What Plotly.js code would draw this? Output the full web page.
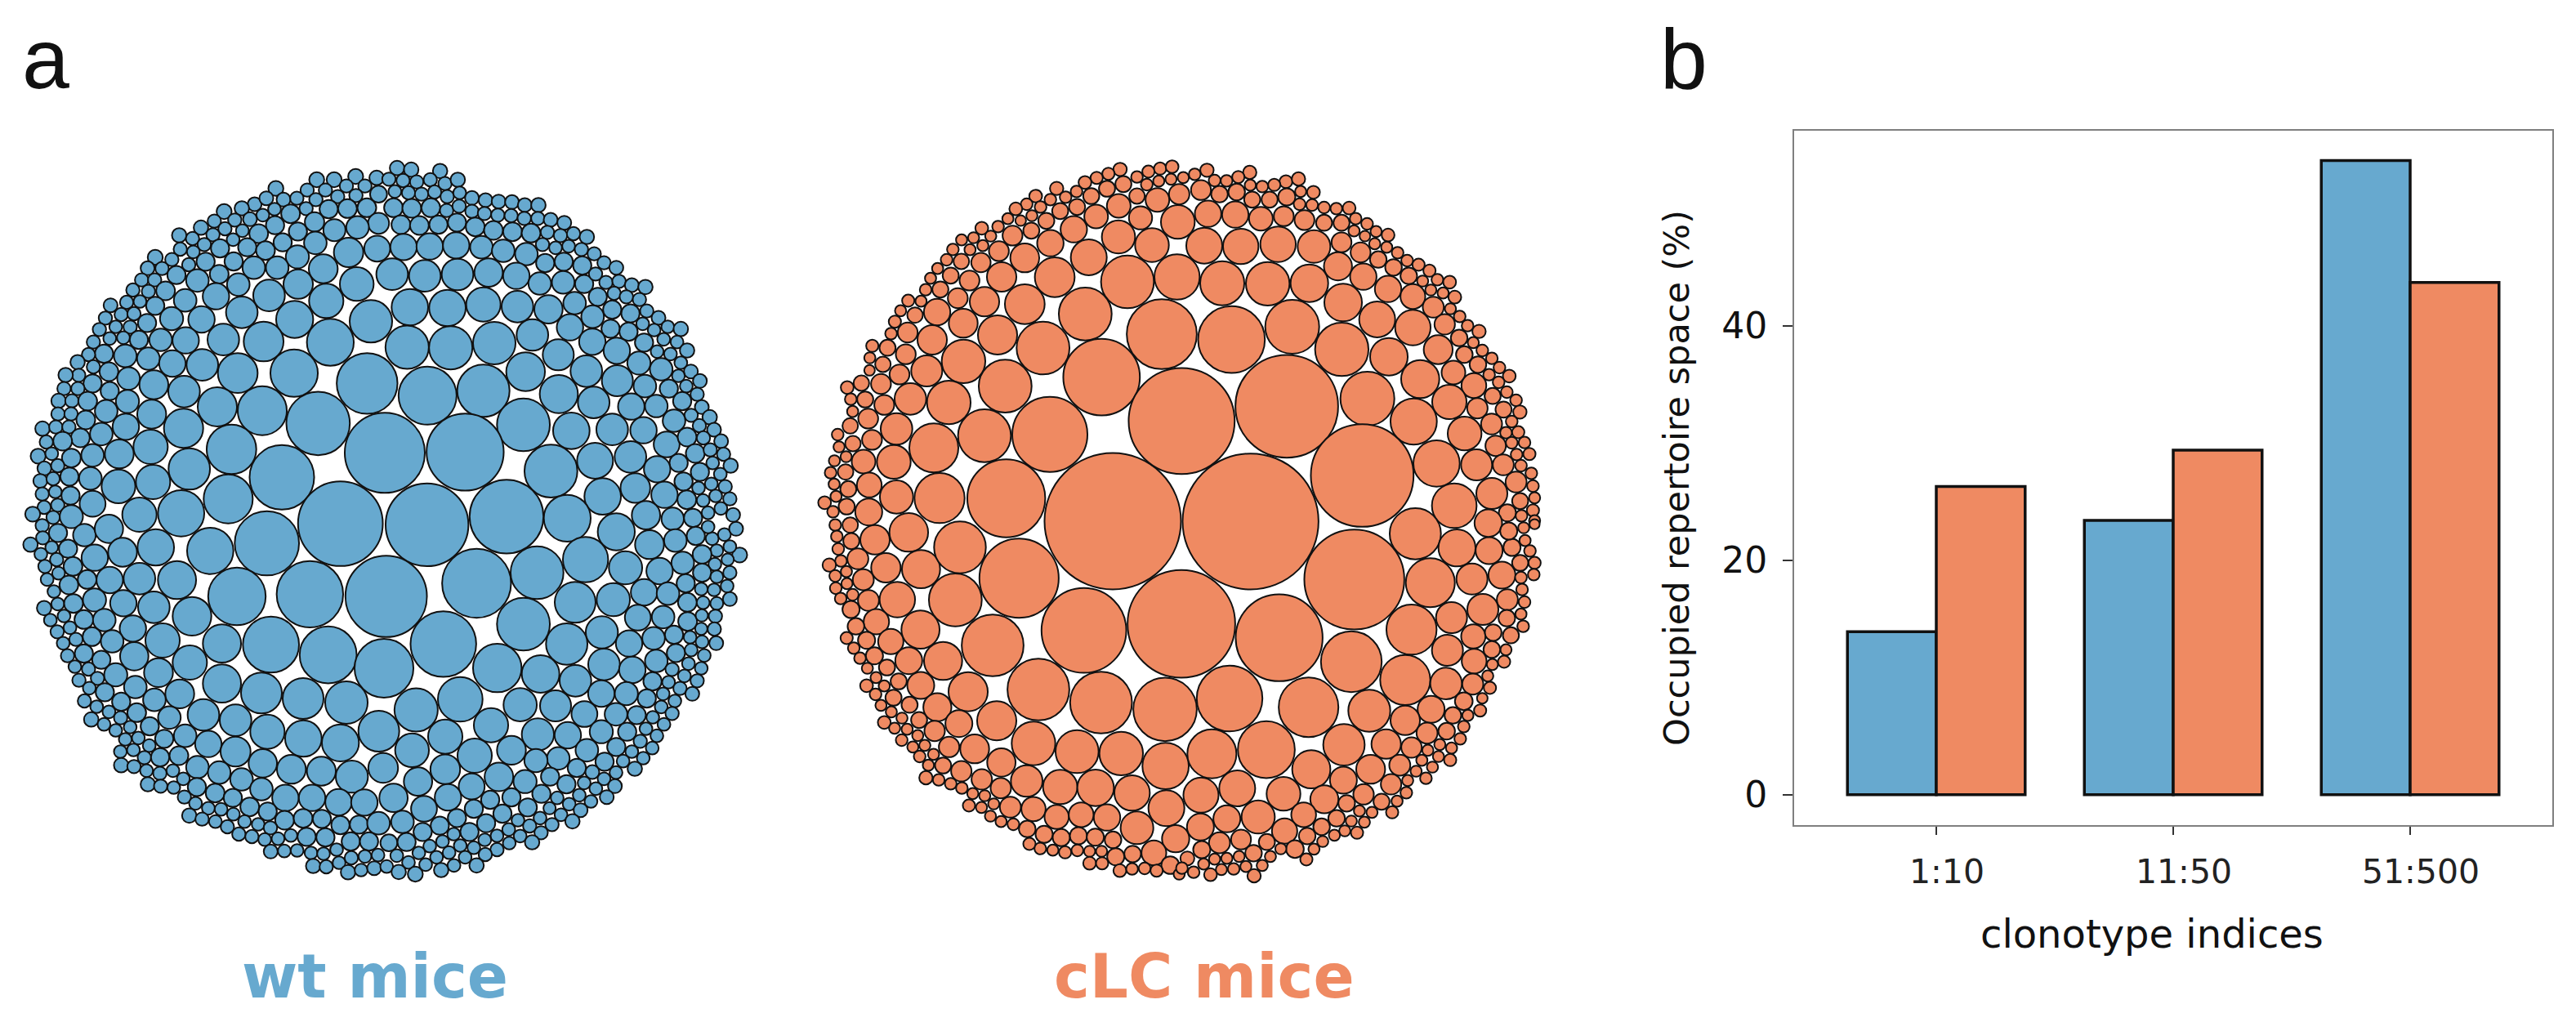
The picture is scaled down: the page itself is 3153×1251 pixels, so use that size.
<!DOCTYPE html>
<html><head><meta charset="utf-8">
<script src="https://cdn.plot.ly/plotly-3.0.1.min.js"></script>
<style>html,body{margin:0;padding:0;background:#fff}</style></head>
<body><div id="chart" style="width:3153px;height:1251px"></div>
<script>
// bar panel values
const categories=["1:10","11:50","51:500"];
const wtSpace=[13.9,23.4,54.1];
const clcSpace=[26.3,29.4,43.7];
const yTicks=[0,20,40];

// bubble panels: [x, y, diameter] read per quadrant of each disc, in 1/3 px of the picture
const wtOrigins={nw:[20,190],ne:[470,190],sw:[20,640],se:[470,640]};
const clcOrigins={nw:[995,190],ne:[1445,190],sw:[995,640],se:[1445,640]};

const wtNW=[[1103,90,48],[1167,90,48],[1246,78,48],[1323,83,46],[953,122,48],[1068,128,42],[1135,128,42],[1212,113,42],[1280,113,42],[875,180,44],[918,158,44],[981,163,44],[1030,158,42],[1100,163,42],[1180,152,42],[1247,148,42],[1330,143,55],[763,207,48],[828,195,46],[905,220,40],[948,198,40],[1064,196,42],[1147,198,60],[1216,196,62],[1287,193,62],[727,242,42],[802,238,42],[858,235,44],[1007,215,62],[950,257,60],[1095,245,64],[1330,250,70],[1168,275,74],[1253,265,76],[678,266,46],[766,270,42],[830,277,40],[890,288,62],[1034,280,60],[598,294,46],[722,292,42],[796,310,40],[647,306,42],[690,328,42],[748,342,60],[848,338,60],[978,320,60],[1098,322,76],[1220,357,104],[1325,343,88],[602,345,42],[650,355,40],[915,350,62],[1032,373,78],[510,375,48],[571,383,42],[633,402,42],[695,391,60],[798,390,60],[872,413,76],[958,413,76],[1127,417,102],[482,415,44],[535,416,42],[588,440,60],[745,437,62],[665,460,76],[1035,473,104],[1250,473,120],[460,458,42],[508,458,42],[548,498,62],[815,475,76],[928,515,112],[733,518,90],[428,495,42],[485,500,42],[454,537,40],[405,540,42],[510,553,60],[620,533,76],[1138,535,122],[346,551,44],[385,585,42],[432,582,42],[327,598,42],[828,577,112],[1022,603,132],[570,600,78],[680,603,90],[1302,610,152],[365,630,40],[480,616,60],[418,631,42],[305,640,42],[530,678,76],[622,680,90],[760,677,112],[908,684,142],[1153,687,168],[343,673,40],[393,670,40],[283,686,42],[450,678,60],[322,729,60],[265,732,42],[400,737,76],[485,747,76],[573,765,90],[683,770,112],[813,800,142],[1020,800,170],[225,760,46],[283,777,42],[340,795,62],[229,808,42],[181,807,46],[1288,838,222],[412,820,76],[280,838,60],[505,843,102],[616,868,112],[175,857,42],[226,857,42],[343,866,60],[155,902,46],[204,902,42],[262,903,62],[408,904,78],[738,924,140],[903,938,176],[1108,985,232],[153,950,42],[201,950,42],[330,940,76],[497,951,102],[255,972,62],[614,1003,140],[96,1004,46],[145,998,42],[193,998,42],[402,997,90],[312,1024,76],[235,1038,62],[110,1053,42],[170,1050,62],[790,1080,178],[493,1071,122],[378,1097,102],[280,1102,76],[80,1105,48],[130,1096,40],[202,1112,62],[975,1183,236],[103,1150,44],[152,1140,42],[88,1196,44],[135,1188,42],[195,1180,60],[272,1187,76],[375,1216,120],[502,1200,122],[635,1152,148],[95,1244,42],[143,1236,40],[199,1250,60],[280,1280,88],[778,1262,176],[102,1293,42],[152,1285,42],[60,1318,48],[135,1330,42],[202,1327,78],[452,1320,122],[605,1315,166]];

const wtNE=[[48,47,46],[100,53,46],[206,58,46],[18,88,42],[70,93,42],[120,98,42],[170,90,42],[224,104,42],[271,90,46],[40,133,40],[90,138,42],[138,143,42],[186,135,42],[232,152,42],[278,138,40],[323,157,44],[373,165,44],[421,170,44],[470,172,44],[517,183,44],[567,183,46],[35,193,62],[102,195,62],[172,193,62],[230,203,42],[276,187,42],[323,206,42],[369,214,42],[418,220,42],[467,222,42],[515,232,42],[565,232,42],[612,237,44],[662,248,44],[62,255,62],[130,258,62],[200,255,60],[268,247,60],[335,263,62],[402,276,62],[472,281,62],[540,286,62],[600,283,42],[648,295,42],[696,288,42],[745,300,46],[72,337,90],[168,335,90],[265,331,90],[358,338,76],[438,351,76],[523,363,76],[582,328,42],[630,340,40],[678,334,40],[725,346,42],[772,362,42],[30,437,112],[150,443,112],[270,438,112],[384,431,100],[486,443,90],[592,396,60],[660,391,60],[728,405,60],[808,395,42],[853,413,44],[572,471,76],[658,467,76],[735,473,60],[777,436,42],[815,467,42],[863,463,42],[910,477,44],[960,484,46],[95,558,130],[233,561,130],[365,548,122],[490,556,112],[604,566,100],[700,543,76],[785,520,60],[845,507,42],[890,520,42],[938,530,42],[766,593,76],[838,567,60],[905,581,60],[965,572,42],[1008,597,44],[1042,630,40],[1090,638,46],[683,632,90],[832,637,60],[898,648,60],[950,619,40],[992,642,40],[545,660,112],[405,690,152],[85,705,155],[245,707,155],[765,685,90],[955,688,60],[1027,676,40],[1076,686,40],[1113,717,46],[1003,721,40],[1052,730,40],[640,733,110],[855,718,90],[936,763,78],[1018,786,76],[1090,762,40],[1127,794,44],[1081,810,40],[1160,829,44],[1110,848,40],[520,795,138],[743,793,112],[857,828,110],[958,848,76],[1046,857,60],[1150,878,42],[1095,903,60],[1167,925,44],[160,883,212],[365,865,188],[642,877,136],[770,908,112],[908,923,90],[1000,921,76],[1128,955,42],[1196,962,46],[1065,975,76],[1158,993,42],[1212,1008,44],[512,990,190],[688,1012,130],[838,1007,112],[953,1010,90],[1038,1062,88],[1113,1035,62],[1173,1038,42],[1238,1050,44],[298,1090,282],[3,1093,293],[613,1160,190],[775,1122,128],[905,1108,112],[1143,1095,62],[1082,1130,60],[1198,1082,42],[1247,1098,42],[1207,1130,40],[1273,1140,46],[1003,1153,90],[1160,1163,60],[1235,1171,40],[1100,1198,60],[1202,1207,40],[1253,1217,42],[1155,1222,40],[803,1253,130],[923,1222,105],[1030,1247,90],[1112,1265,62],[1172,1268,40],[1218,1251,40],[1270,1262,42],[1237,1297,40],[1190,1313,40],[1282,1321,44],[450,1327,270],[673,1333,168],[962,1322,100],[1060,1335,75],[1135,1332,60]];

const wtSW=[[95,10,42],[52,80,46],[97,55,42],[153,37,60],[250,45,76],[340,22,100],[130,90,40],[190,95,60],[288,128,90],[390,108,102],[512,90,130],[712,103,166],[920,75,235],[1190,3,310],[90,115,40],[148,135,42],[208,160,62],[105,160,42],[155,185,40],[113,208,40],[193,228,62],[260,208,62],[343,210,90],[452,205,112],[590,210,136],[138,252,40],[810,270,210],[1078,262,243],[152,298,40],[210,296,62],[287,283,78],[393,295,90],[505,310,112],[645,343,138],[102,313,46],[175,342,40],[248,355,62],[323,357,76],[125,357,40],[428,388,90],[197,385,40],[150,400,42],[278,418,62],[352,435,76],[537,432,122],[755,443,136],[935,447,205],[1145,485,208],[172,442,40],[219,428,42],[433,490,100],[188,488,42],[248,480,60],[312,503,60],[637,513,122],[215,528,40],[265,537,42],[365,558,78],[522,550,102],[230,578,42],[298,571,42],[268,607,40],[325,622,60],[437,603,76],[600,628,102],[755,590,136],[900,625,146],[1053,645,146],[1212,660,152],[250,654,42],[385,657,60],[507,650,76],[295,675,40],[340,694,40],[442,697,62],[562,715,76],[687,705,112],[805,725,112],[922,767,122],[1054,792,130],[1190,808,132],[1331,765,146],[275,722,46],[322,740,40],[383,716,42],[365,762,40],[418,750,40],[490,747,60],[620,782,76],[705,812,90],[805,840,106],[400,795,40],[448,790,40],[543,793,60],[488,818,40],[382,840,40],[430,834,40],[470,862,42],[528,861,60],[597,855,62],[905,883,100],[1010,905,102],[1120,912,102],[1232,932,114],[1347,900,105],[385,890,46],[432,895,42],[478,910,40],[527,920,42],[575,910,40],[665,897,76],[745,917,76],[827,942,76],[483,960,46],[530,967,42],[578,972,40],[613,940,40],[663,970,60],[730,992,62],[795,1010,60],[900,978,76],[988,1010,90],[1086,1010,90],[1183,1026,90],[1278,1027,90],[617,1007,42],[658,1030,40],[705,1048,40],[752,1052,40],[857,1043,62],[923,1060,60],[985,1092,62],[1053,1085,62],[1122,1087,60],[1190,1110,60],[1258,1108,60],[1330,1103,76],[635,1075,46],[682,1088,42],[731,1097,40],[797,1070,40],[838,1097,40],[888,1107,40],[933,1120,42],[775,1116,42],[817,1143,42],[865,1152,42],[912,1163,40],[961,1160,40],[1008,1148,40],[1066,1153,60],[1135,1155,60],[1228,1170,60],[1295,1170,60],[934,1207,44],[984,1205,40],[1031,1203,40],[1082,1212,40],[1128,1215,40],[1176,1200,40],[1230,1230,42],[1280,1225,40],[1328,1220,40],[1090,1260,46],[1138,1263,42],[1185,1248,40],[1218,1283,46],[1266,1275,40],[1314,1268,44]];

const wtSE=[[158,7,303],[853,33,132],[8,270,298],[340,222,252],[562,183,190],[740,135,162],[975,80,102],[887,165,118],[1070,65,76],[1145,48,60],[1205,58,40],[1250,43,40],[1293,22,44],[1190,15,40],[1306,118,48],[1270,87,40],[1222,102,40],[1168,116,62],[1097,147,76],[1215,152,40],[1262,135,38],[1012,177,90],[1168,183,60],[1222,198,40],[1270,183,42],[702,292,146],[842,282,118],[955,255,90],[1043,260,76],[1108,222,60],[1165,243,40],[1212,246,40],[1260,232,40],[1114,292,62],[1172,293,40],[1222,296,40],[1270,280,44],[512,372,190],[932,348,88],[1025,346,76],[1115,362,62],[1167,340,38],[1217,343,42],[800,402,114],[671,445,148],[218,445,240],[900,443,90],[990,424,76],[1065,411,60],[1124,420,40],[1165,389,38],[1213,390,42],[1168,437,40],[1220,442,44],[0,534,215],[416,533,174],[575,555,134],[808,520,112],[703,580,112],[912,540,90],[1000,507,76],[1072,478,60],[1128,467,40],[1176,487,40],[1058,538,42],[1118,517,40],[1165,534,40],[986,582,60],[1045,585,40],[1103,562,40],[1150,580,42],[1087,608,42],[1132,628,44],[280,648,160],[118,687,155],[500,668,118],[630,672,110],[798,627,90],[890,627,78],[965,645,60],[1025,628,40],[1068,654,40],[1018,676,40],[1058,700,42],[736,702,88],[852,703,76],[928,706,60],[987,714,40],[1028,740,40],[393,743,122],[565,777,114],[225,785,122],[675,780,90],[798,767,78],[893,767,60],[962,756,40],[1002,782,40],[941,802,42],[103,835,120],[333,855,122],[468,835,102],[745,835,76],[853,823,60],[985,827,40],[910,840,40],[952,864,40],[878,875,40],[640,865,76],[558,873,78],[225,905,105],[810,877,60],[708,900,60],[765,915,44],[921,903,46],[852,917,40],[422,933,98],[125,950,100],[322,968,88],[518,950,78],[610,932,60],[808,940,40],[735,955,40],[670,960,60],[778,976,40],[848,967,44],[818,1007,44],[35,1010,100],[235,1008,90],[390,1017,60],[468,1008,60],[578,995,60],[636,1010,40],[717,1000,40],[760,1023,40],[147,1050,88],[330,1050,60],[528,1045,60],[435,1068,60],[608,1048,38],[680,1033,40],[722,1055,44],[650,1072,40],[68,1098,76],[268,1084,60],[205,1112,60],[375,1103,60],[492,1092,40],[573,1084,40],[692,1096,46],[617,1108,42],[535,1113,42],[142,1135,60],[314,1135,60],[458,1126,40],[256,1143,40],[415,1149,40],[500,1150,40],[577,1138,42],[370,1164,40],[18,1175,55],[83,1172,60],[215,1170,40],[168,1187,40],[280,1185,40],[330,1193,40],[460,1176,40],[415,1200,42],[544,1173,46],[128,1212,40],[239,1211,40],[372,1218,42],[298,1228,40],[47,1222,40],[193,1228,40],[90,1247,40],[153,1255,40],[257,1258,40],[340,1258,46],[10,1262,40],[54,1282,46],[115,1290,48],[210,1275,46]];

const clcNW=[[1128,52,42],[1085,68,38],[1042,83,38],[999,100,40],[1190,80,36],[1232,60,38],[1275,49,38],[1319,42,40],[1270,95,34],[1226,108,36],[1315,88,34],[1140,106,52],[1080,123,52],[1022,150,52],[968,133,36],[895,122,42],[818,150,40],[872,163,36],[928,154,36],[1190,150,50],[1265,164,80],[1345,143,68],[785,180,36],[836,190,36],[745,197,40],[970,190,52],[908,205,52],[1123,186,80],[1040,225,80],[716,233,34],[763,240,32],[804,222,34],[857,241,52],[1203,230,78],[1340,245,120],[680,262,36],[620,268,40],[958,272,90],[802,277,52],[733,295,66],[653,297,34],[1122,300,118],[1245,330,120],[590,303,34],[546,311,34],[624,332,34],[577,347,34],[514,346,36],[872,323,90],[683,352,66],[1013,375,128],[491,384,36],[545,390,50],[617,394,64],[778,377,102],[458,416,34],[506,442,52],[1155,465,190],[1337,447,162],[888,448,142],[432,452,34],[575,460,66],[693,447,104],[414,494,36],[468,493,52],[532,525,66],[630,538,104],[778,547,142],[1000,583,190],[350,534,38],[397,536,34],[322,571,34],[456,576,90],[375,587,50],[552,617,102],[1281,657,256],[301,611,38],[348,651,66],[287,655,36],[438,678,104],[678,660,140],[845,708,190],[218,700,38],[274,707,52],[553,757,156],[341,731,66],[209,744,34],[257,768,50],[1060,815,280],[418,792,110],[706,848,190],[208,790,32],[318,805,66],[126,853,40],[178,837,50],[250,840,66],[358,895,112],[192,897,52],[499,908,156],[262,917,66],[139,896,36],[146,941,34],[203,967,66],[307,1005,112],[630,1030,190],[137,994,50],[870,1025,275],[91,1026,36],[147,1059,50],[217,1045,66],[444,1075,176],[96,1071,34],[122,1107,34],[79,1122,34],[186,1125,80],[297,1126,120],[120,1163,50],[65,1166,36],[78,1208,34],[207,1211,84],[130,1226,52],[85,1253,34],[43,1276,40],[124,1290,52],[307,1255,118],[465,1259,180],[710,1260,285],[1101,1344,500],[74,1309,36],[205,1310,92]];

const clcNE=[[97,55,42],[52,70,36],[10,82,34],[254,63,42],[212,80,38],[125,93,36],[169,94,36],[387,97,40],[433,87,42],[344,109,38],[300,115,36],[256,110,34],[75,128,66],[143,143,54],[206,135,54],[488,136,40],[441,133,34],[263,163,52],[327,163,52],[390,153,56],[437,180,36],[483,183,36],[527,192,36],[572,196,36],[619,194,40],[101,215,90],[201,218,90],[295,233,80],[379,224,66],[455,238,66],[527,248,52],[591,248,52],[643,233,36],[685,252,36],[637,278,34],[718,280,34],[762,293,40],[677,297,32],[713,325,34],[591,320,66],[757,338,34],[797,358,36],[87,332,128],[221,335,126],[358,327,126],[490,335,116],[661,357,66],[726,383,54],[832,387,36],[874,402,38],[578,408,96],[782,412,54],[914,424,38],[838,443,54],[889,462,34],[943,457,36],[988,466,40],[153,470,158],[320,472,156],[473,470,134],[671,446,90],[762,491,90],[919,495,34],[964,506,34],[1007,521,40],[853,519,84],[597,541,134],[928,558,70],[991,564,34],[1025,592,36],[722,603,128],[853,633,126],[970,621,68],[1054,626,36],[1096,647,42],[187,677,244],[410,630,194],[1023,671,54],[1075,688,34],[592,713,192],[946,714,102],[1108,717,36],[1042,732,54],[1143,746,36],[765,740,134],[1092,769,54],[1171,780,36],[1002,798,80],[1133,806,36],[1207,811,40],[1168,834,36],[1198,870,36],[880,822,136],[1077,846,84],[390,922,376],[686,894,194],[987,906,122],[1146,884,52],[1232,900,36],[1090,929,68],[1186,934,52],[1246,943,42],[4,976,388],[856,978,166],[1142,987,70],[1216,978,36],[1043,1022,120],[1195,1019,36],[1240,1017,38],[1263,1055,36],[1216,1056,36],[1157,1067,68],[667,1176,376],[940,1132,166],[1087,1137,110],[1234,1099,36],[1281,1097,38],[1185,1137,70],[1250,1140,36],[1288,1168,36],[1232,1200,70],[1294,1215,36],[1143,1242,110],[1005,1287,160],[1247,1270,52],[1300,1258,34],[1294,1304,38],[1200,1313,56],[1252,1324,36],[1300,1342,34],[257,1345,498]];

const clcSW=[[82,8,36],[137,8,50],[88,50,36],[141,67,52],[228,62,104],[352,35,138],[93,96,36],[165,132,70],[103,140,36],[60,155,42],[268,165,104],[397,170,136],[540,90,186],[123,179,34],[82,195,36],[185,209,70],[125,223,34],[757,203,290],[84,240,36],[146,264,36],[204,285,70],[102,278,36],[310,282,126],[523,283,190],[140,318,56],[233,363,86],[395,392,136],[158,380,54],[124,423,38],[197,431,56],[286,436,86],[660,450,226],[995,395,310],[150,460,36],[173,497,36],[226,488,56],[352,506,92],[478,507,136],[200,534,34],[272,531,52],[232,568,34],[315,582,52],[197,598,40],[262,599,34],[396,597,92],[570,620,140],[828,612,226],[1058,660,226],[1293,685,232],[230,630,36],[296,642,52],[250,670,34],[355,668,52],[457,677,96],[288,694,34],[675,727,140],[327,717,34],[390,724,52],[262,733,40],[536,737,92],[300,754,34],[346,758,34],[385,781,34],[447,764,68],[326,798,36],[367,823,34],[411,817,34],[500,823,68],[594,830,102],[810,810,156],[970,840,154],[1132,847,156],[1295,893,166],[392,858,36],[443,850,34],[424,890,34],[478,891,52],[692,880,100],[545,912,68],[415,936,42],[462,944,36],[506,958,36],[620,942,68],[785,948,112],[908,970,122],[1038,973,130],[1172,992,126],[547,974,36],[690,974,68],[587,994,34],[631,1002,34],[573,1038,38],[619,1045,34],[664,1032,34],[725,1044,70],[810,1051,82],[1298,1048,128],[652,1077,34],[691,1097,34],[736,1107,36],[895,1080,82],[985,1072,84],[1080,1082,90],[1190,1120,116],[787,1124,54],[849,1144,56],[912,1156,56],[975,1149,56],[1037,1154,56],[1102,1164,54],[1332,1160,93],[795,1179,38],[835,1196,36],[881,1202,34],[926,1210,38],[971,1203,36],[1016,1206,34],[1060,1206,34],[1252,1212,84],[1112,1226,56],[1174,1216,54],[1016,1250,40],[1062,1250,38],[1312,1257,58],[1127,1277,40],[1172,1271,36],[1218,1269,36],[1262,1277,38],[1345,1290,34]];

const clcSE=[[3,371,394],[362,422,318],[638,208,366],[862,40,184],[1015,92,132],[1133,102,92],[1217,90,56],[1265,65,34],[1283,103,36],[1130,1,94],[1205,30,56],[1260,18,34],[1300,5,30],[1300,147,38],[1247,147,52],[1180,192,92],[1070,206,110],[917,220,176],[1297,190,36],[1250,201,36],[1254,245,36],[1200,282,70],[1263,291,36],[1110,318,110],[995,348,110],[848,392,180],[1198,350,54],[1250,335,34],[1258,380,36],[627,510,222],[1213,413,52],[1075,417,82],[1148,403,54],[980,468,110],[1195,466,34],[1143,465,54],[1078,508,84],[1188,510,38],[1145,520,34],[180,645,240],[470,677,218],[825,577,180],[975,590,112],[1128,562,34],[1073,592,70],[1136,606,38],[1108,644,32],[693,690,150],[1040,655,58],[920,685,92],[825,725,104],[1000,707,54],[1100,689,38],[1055,707,34],[905,772,70],[977,765,54],[1040,748,36],[1027,793,36],[315,833,208],[115,848,176],[600,815,148],[755,812,104],[848,825,68],[952,814,34],[995,827,34],[908,835,34],[947,858,34],[990,871,38],[886,872,34],[480,905,136],[805,890,70],[698,905,102],[925,897,34],[865,912,34],[901,938,36],[208,975,128],[75,1000,125],[378,995,120],[598,945,92],[773,960,68],[834,946,34],[528,1015,96],[672,997,68],[829,991,36],[738,1024,52],[795,1022,34],[610,1030,54],[285,1080,118],[170,1087,92],[452,1072,84],[657,1058,34],[703,1063,34],[777,1063,38],[573,1085,54],[627,1095,34],[73,1117,92],[518,1116,54],[675,1099,34],[382,1132,86],[603,1131,34],[648,1138,38],[565,1147,34],[465,1150,54],[143,1175,70],[222,1163,66],[317,1172,52],[522,1170,34],[420,1198,58],[368,1197,34],[78,1200,56],[490,1198,34],[268,1213,54],[215,1225,34],[330,1225,34],[462,1236,38],[25,1232,44],[125,1235,34],[170,1232,34],[85,1253,34],[240,1262,34],[300,1258,34],[150,1273,34],[195,1271,36],[5,1268,36],[48,1283,36],[110,1292,40],[270,1296,42]];

const BLUE="#67a9cf", ORANGE="#ef8a62", INK="#111111";

function bubbles(name,color,origins,tiles){
  const x=[],y=[],s=[];
  for(const k of Object.keys(tiles)){
    const [ox,oy]=origins[k];
    for(const [a,b,d] of tiles[k]){x.push(ox+a/3);y.push(oy+b/3);s.push(d/3+(d<100?2.4:d<200?1.4:0.4));}
  }
  return {type:"scatter",mode:"markers",name,x,y,xaxis:"x",yaxis:"y",hoverinfo:"skip",
    marker:{color,size:s,sizemode:"diameter",opacity:1,line:{color:INK,width:2}}};
}

const traces=[
 bubbles("wt mice",BLUE,wtOrigins,{nw:wtNW,ne:wtNE,sw:wtSW,se:wtSE}),
 bubbles("cLC mice",ORANGE,clcOrigins,{nw:clcNW,ne:clcNE,sw:clcSW,se:clcSE}),
 {type:"bar",name:"wt",x:categories,y:wtSpace,xaxis:"x2",yaxis:"y2",marker:{color:BLUE,line:{color:INK,width:3.5}}},
 {type:"bar",name:"cLC",x:categories,y:clcSpace,xaxis:"x2",yaxis:"y2",marker:{color:ORANGE,line:{color:INK,width:3.5}}}
];

const W=3153,H=1251;
const layout={
 width:W,height:H,margin:{l:0,r:0,t:0,b:0,pad:0},paper_bgcolor:"#fff",plot_bgcolor:"rgba(0,0,0,0)",
 showlegend:false,barmode:"group",bargap:0.25,bargroupgap:0,
 font:{family:"DejaVu Sans",color:"#111"},
 xaxis:{domain:[0,1],range:[0,W],visible:false,fixedrange:true},
 yaxis:{domain:[0,1],range:[H,0],visible:false,fixedrange:true},
 xaxis2:{domain:[2196/W,3124/W],anchor:"y2",type:"category",range:[-0.6,2.6],showgrid:false,zeroline:false,
   showline:true,mirror:true,linecolor:"#7f7f7f",linewidth:2,ticks:"outside",ticklen:10,tickwidth:2,tickcolor:"#333",
   ticklabelshift:13,ticklabelstandoff:10,tickfont:{family:"DejaVu Sans",size:41,color:"#222"}},
 yaxis2:{domain:[1-1010/H,1-160/H],anchor:"x2",range:[-2.6,56.65],tickvals:yTicks,showgrid:false,zeroline:false,
   showline:true,mirror:true,linecolor:"#7f7f7f",linewidth:2,ticks:"outside",ticklen:12,tickwidth:2,tickcolor:"#333",
   ticklabelstandoff:10,tickfont:{family:"DejaVu Sans",size:44,color:"#111"},
   title:{text:"Occupied repertoire space (%)",standoff:26,font:{family:"DejaVu Sans",size:43,color:"#111"}}},
 annotations:[
  {text:"a",xref:"x",yref:"y",x:56,y:72,showarrow:false,xanchor:"center",yanchor:"middle",font:{family:"Liberation Sans",size:104,color:"#111"}},
  {text:"b",xref:"x",yref:"y",x:2061,y:72,showarrow:false,xanchor:"center",yanchor:"middle",font:{family:"Liberation Sans",size:104,color:"#111"}},
  {text:"<b>wt mice</b>",xref:"x",yref:"y",x:459,y:1195,showarrow:false,xanchor:"center",yanchor:"middle",font:{family:"DejaVu Sans",size:74,color:BLUE}},
  {text:"<b>cLC mice</b>",xref:"x",yref:"y",x:1474,y:1195,showarrow:false,xanchor:"center",yanchor:"middle",font:{family:"DejaVu Sans",size:74,color:ORANGE}},
  {text:"clonotype indices",xref:"x",yref:"y",x:2634,y:1143,showarrow:false,xanchor:"center",yanchor:"middle",font:{family:"DejaVu Sans",size:48,color:"#111"}}
 ]
};
Plotly.newPlot("chart",traces,layout,{staticPlot:true,displayModeBar:false});
</script></body></html>
